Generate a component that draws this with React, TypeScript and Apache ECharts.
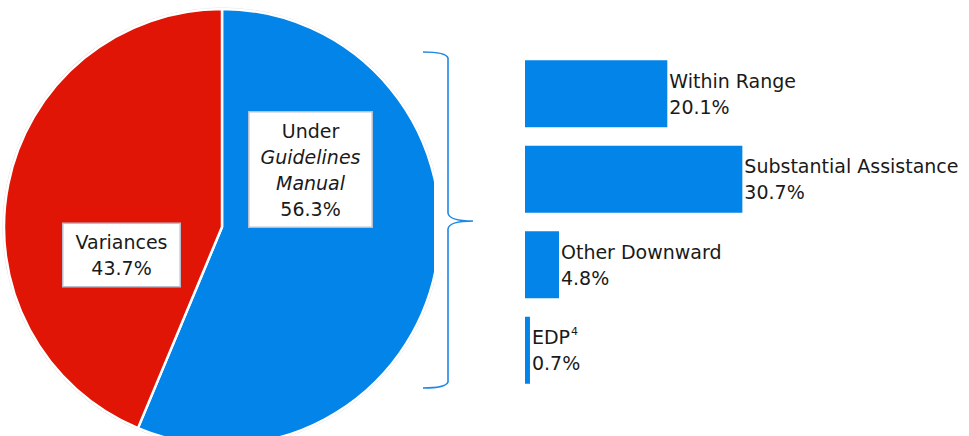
import React, { useEffect, useRef } from "react";
import * as echarts from "echarts";

// ---- data ----
const pieCategories = ["Under Guidelines Manual", "Variances"];
const pieValues = [56.3, 43.7];
const pieColors = ["#0284E8", "#E01506"];

const barCategories = ["Within Range", "Substantial Assistance", "Other Downward", "EDP"];
const barFootnotes = ["", "", "", "4"];
const barValues = [20.1, 30.7, 4.8, 0.7];
const barColor = "#0284E8";

const FONT = "DejaVu Sans";

const bracePath =
  "M423,52 Q446,52 448,58 L448,213 Q449,221 473,221 Q449,221 448,229 L448,382 Q446,388 423,388";
echarts.graphic.registerShape("brace", echarts.graphic.extendPath(bracePath, {}));

export default function App() {
  const ref = useRef<HTMLDivElement>(null);
  useEffect(() => {
    document.body.style.margin = "0";
    const chart = echarts.init(ref.current!, null, { renderer: "svg" });
    const labelPos: Record<number, [number, number]> = { 0: [310.5, 169.5], 1: [121.5, 255] };
    const labelPad: Array<[number, number]> = [[5, 11], [5, 12]];
    chart.setOption({
      animation: false,
      backgroundColor: "#ffffff",
      textStyle: { fontFamily: FONT },
      grid: { left: 525, top: 51, height: 342, width: 424.8 },
      xAxis: { type: "value", min: 0, max: 60, show: false },
      yAxis: {
        type: "category",
        data: barCategories,
        inverse: true,
        show: false,
      },
      series: [
        {
          type: "pie",
          center: [222, 227],
          radius: [0, 218],
          startAngle: 90,
          clockwise: true,
          z: 3,
          itemStyle: { borderColor: "#ffffff", borderWidth: 2.5 },
          data: pieCategories.map((n, i) => ({
            name: n,
            value: pieValues[i],
            itemStyle: { color: pieColors[i] },
            label: { padding: labelPad[i] },
          })),
          label: {
            show: true,
            position: "inside",
            backgroundColor: "#ffffff",
            borderColor: "#b8c0cf",
            borderWidth: 1.5,
            padding: [5, 9],
            color: "#1a1a1a",
            fontFamily: FONT,
            formatter: (p: any) => {
              if (p.dataIndex === 0) {
                return `{n|Under}\n{i|Guidelines}\n{i|Manual}\n{n|${p.value}%}`;
              }
              return `{n|${p.name}}\n{n|${p.value}%}`;
            },
            rich: {
              n: { fontSize: 19, lineHeight: 26, color: "#1a1a1a", fontFamily: FONT, align: "center" },
              i: {
                fontSize: 19,
                lineHeight: 26,
                color: "#1a1a1a",
                fontStyle: "italic",
                fontFamily: FONT,
                align: "center",
              },
            },
          },
          labelLine: { show: false },
          labelLayout: (params: any) => {
            const pos = labelPos[params.dataIndex];
            return { x: pos[0], y: pos[1], align: "center", verticalAlign: "middle" };
          },
        },
        {
          type: "pie",
          center: [222, 227],
          radius: [218, 219.5],
          silent: true,
          z: 2,
          label: { show: false },
          labelLine: { show: false },
          itemStyle: { color: "#d9d9d9" },
          data: [{ value: 1, name: "outline" }],
        },
        {
          type: "bar",
          data: barValues,
          barWidth: 67,
          itemStyle: { color: barColor },
          label: {
            show: true,
            position: "right",
            distance: 2,
            fontFamily: FONT,
            formatter: (p: any) => {
              const fn = barFootnotes[p.dataIndex];
              const nm = fn ? `{n|${p.name}}{s|${fn}}` : `{n|${p.name}}`;
              return `${nm}\n{n|${p.value}%}`;
            },
            rich: {
              n: { fontSize: 19, lineHeight: 26, color: "#1a1a1a", fontFamily: FONT },
              s: { fontSize: 11, lineHeight: 26, color: "#1a1a1a", fontFamily: FONT, verticalAlign: "top", padding: [2, 0, 0, 1] },
            },
          },
        },
      ],
      graphic: [
        {
          type: "rect",
          z: 50,
          shape: { x: 434, y: 110, width: 12, height: 240 },
          style: { fill: "#ffffff" },
        },
        {
          type: "brace",
          z: 60,
          style: { fill: "none", stroke: "#1E88E5", lineWidth: 1.6 },
        },
      ],
    });
    return () => chart.dispose();
  }, []);
  return <div ref={ref} style={{ width: 969, height: 436 }} />;
}
